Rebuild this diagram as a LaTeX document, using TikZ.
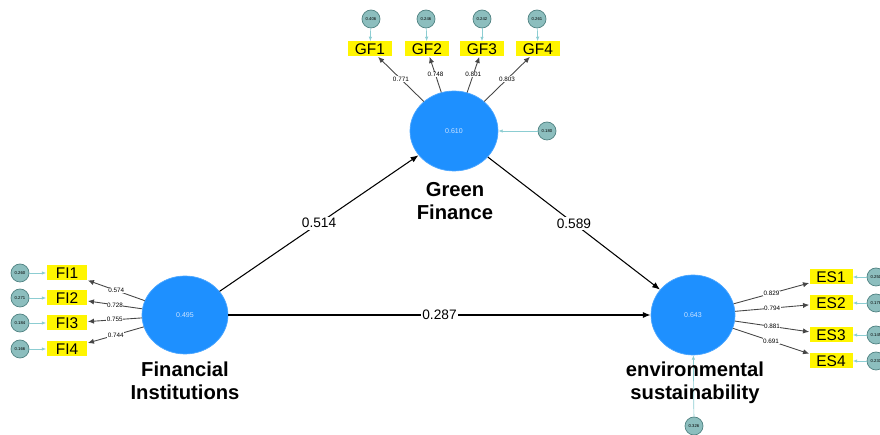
\documentclass[tikz,border=0pt]{standalone}
\usepackage{fontspec}
\setmainfont{Liberation Sans}
\usetikzlibrary{shapes.geometric,arrows.meta,positioning}

\definecolor{latentblue}{RGB}{30,144,255}
\definecolor{valtxt}{RGB}{205,228,255}
\definecolor{indyellow}{RGB}{255,245,0}
\definecolor{errfill}{RGB}{140,190,190}
\definecolor{errdraw}{RGB}{80,130,130}
\definecolor{errlinecol}{RGB}{140,205,210}
\definecolor{arrowgray}{RGB}{70,70,70}

\tikzset{
  latent/.style={ellipse,fill=latentblue,draw=latentblue!80,text=valtxt,inner sep=0pt,
    font=\fontsize{4}{4}\selectfont},
  indic/.style={rectangle,fill=indyellow,minimum width=0.9cm,minimum height=0.3cm,inner sep=0pt,
    font=\fontsize{8.8}{9}\selectfont},
  err/.style={circle,fill=errfill,draw=errdraw,line width=0.4pt,minimum size=0.36cm,inner sep=0pt,
    font=\fontsize{2.4}{2.4}\selectfont},
  load/.style={draw=arrowgray,line width=0.5pt,-{Latex[length=3.5pt,width=3pt]}},
  errarrow/.style={draw=errlinecol,line width=0.4pt,-{Latex[length=2.5pt,width=2pt]}},
  pathcoef/.style={draw=black,line width=0.6pt,-{Latex[length=4.5pt,width=3.5pt]}},
  coef/.style={fill=white,inner sep=1pt,font=\fontsize{7.8}{8}\selectfont},
  lval/.style={fill=white,inner sep=0.3pt,font=\fontsize{3.6}{3.6}\selectfont},
  lname/.style={align=center,font=\fontsize{11.5}{13}\selectfont\bfseries}
}

\begin{document}
\begin{tikzpicture}[x=0.02cm,y=-0.02cm]
\useasboundingbox (0,0) rectangle (880,435);
\clip (0,0) rectangle (880,435);

% latent variables
\node[latent,minimum width=1.76cm,minimum height=1.6cm] (gf) at (454,131) {0.610};
\node[latent,minimum width=1.72cm,minimum height=1.56cm] (fi) at (185,315) {0.495};
\node[latent,minimum width=1.68cm,minimum height=1.6cm] (es) at (693,315) {0.643};

% indicators
\node[indic] (gf1) at (370,49) {GF1};
\node[indic] (gf2) at (427,49) {GF2};
\node[indic] (gf3) at (482,49) {GF3};
\node[indic] (gf4) at (538,49) {GF4};

\node[indic,minimum width=0.82cm] (fi1) at (67,273) {FI1};
\node[indic,minimum width=0.82cm] (fi2) at (67,298) {FI2};
\node[indic,minimum width=0.82cm] (fi3) at (67,323) {FI3};
\node[indic,minimum width=0.82cm] (fi4) at (67,349) {FI4};

\node[indic,minimum width=0.86cm] (es1) at (831,277) {ES1};
\node[indic,minimum width=0.86cm] (es2) at (831,303) {ES2};
\node[indic,minimum width=0.86cm] (es3) at (831,335) {ES3};
\node[indic,minimum width=0.86cm] (es4) at (831,361) {ES4};

% error terms
\node[err] (gfe1) at (371,19) {0.406};
\node[err] (gfe2) at (426,19) {0.246};
\node[err] (gfe3) at (482,19) {0.242};
\node[err] (gfe4) at (537,19) {0.261};
\node[err] (gfe) at (547,131) {0.180};

\node[err] (fie1) at (20,273) {0.260};
\node[err] (fie2) at (20,298) {0.271};
\node[err] (fie3) at (20,323) {0.184};
\node[err] (fie4) at (20,349) {0.166};

\node[err] (ese1) at (876,277) {0.250};
\node[err] (ese2) at (876,303) {0.178};
\node[err] (ese3) at (876,335) {0.145};
\node[err] (ese4) at (876,361) {0.231};
\node[err] (ese) at (694,426) {0.326};

% error arrows
\draw[errarrow] (gfe1) -- (gf1);
\draw[errarrow] (gfe2) -- (gf2);
\draw[errarrow] (gfe3) -- (gf3);
\draw[errarrow] (gfe4) -- (gf4);
\draw[errarrow] (gfe) -- (gf);
\draw[errarrow] (fie1) -- (fi1);
\draw[errarrow] (fie2) -- (fi2);
\draw[errarrow] (fie3) -- (fi3);
\draw[errarrow] (fie4) -- (fi4);
\draw[errarrow] (ese1) -- (es1);
\draw[errarrow] (ese2) -- (es2);
\draw[errarrow] (ese3) -- (es3);
\draw[errarrow] (ese4) -- (es4);
\draw[errarrow] (ese) -- (es);

% outer loadings
\draw[load] (gf) -- node[lval] {0.771} (gf1);
\draw[load] (gf) -- node[lval] {0.748} (gf2);
\draw[load] (gf) -- node[lval] {0.801} (gf3);
\draw[load] (gf) -- node[lval] {0.803} (gf4);

\draw[load] (fi) -- node[lval] {0.574} (fi1);
\draw[load] (fi) -- node[lval] {0.728} (fi2);
\draw[load] (fi) -- node[lval] {0.755} (fi3);
\draw[load] (fi) -- node[lval] {0.744} (fi4);

\draw[load] (es) -- node[lval] {0.829} (es1);
\draw[load] (es) -- node[lval] {0.794} (es2);
\draw[load] (es) -- node[lval] {0.881} (es3);
\draw[load] (es) -- node[lval] {0.691} (es4);

% path coefficients
\draw[pathcoef] (fi) -- node[coef] {0.514} (gf);
\draw[pathcoef] (gf) -- node[coef] {0.589} (es);
\draw[pathcoef] (fi) -- node[coef] {0.287} (es);

% construct names
\node[lname] (gfname) at (455,201) {Green\\Finance};
\node[lname] (finame) at (185,381) {Financial\\Institutions};
\node[lname] (esname) at (695,383) {environmental\\sustainability};
\end{tikzpicture}
\end{document}
